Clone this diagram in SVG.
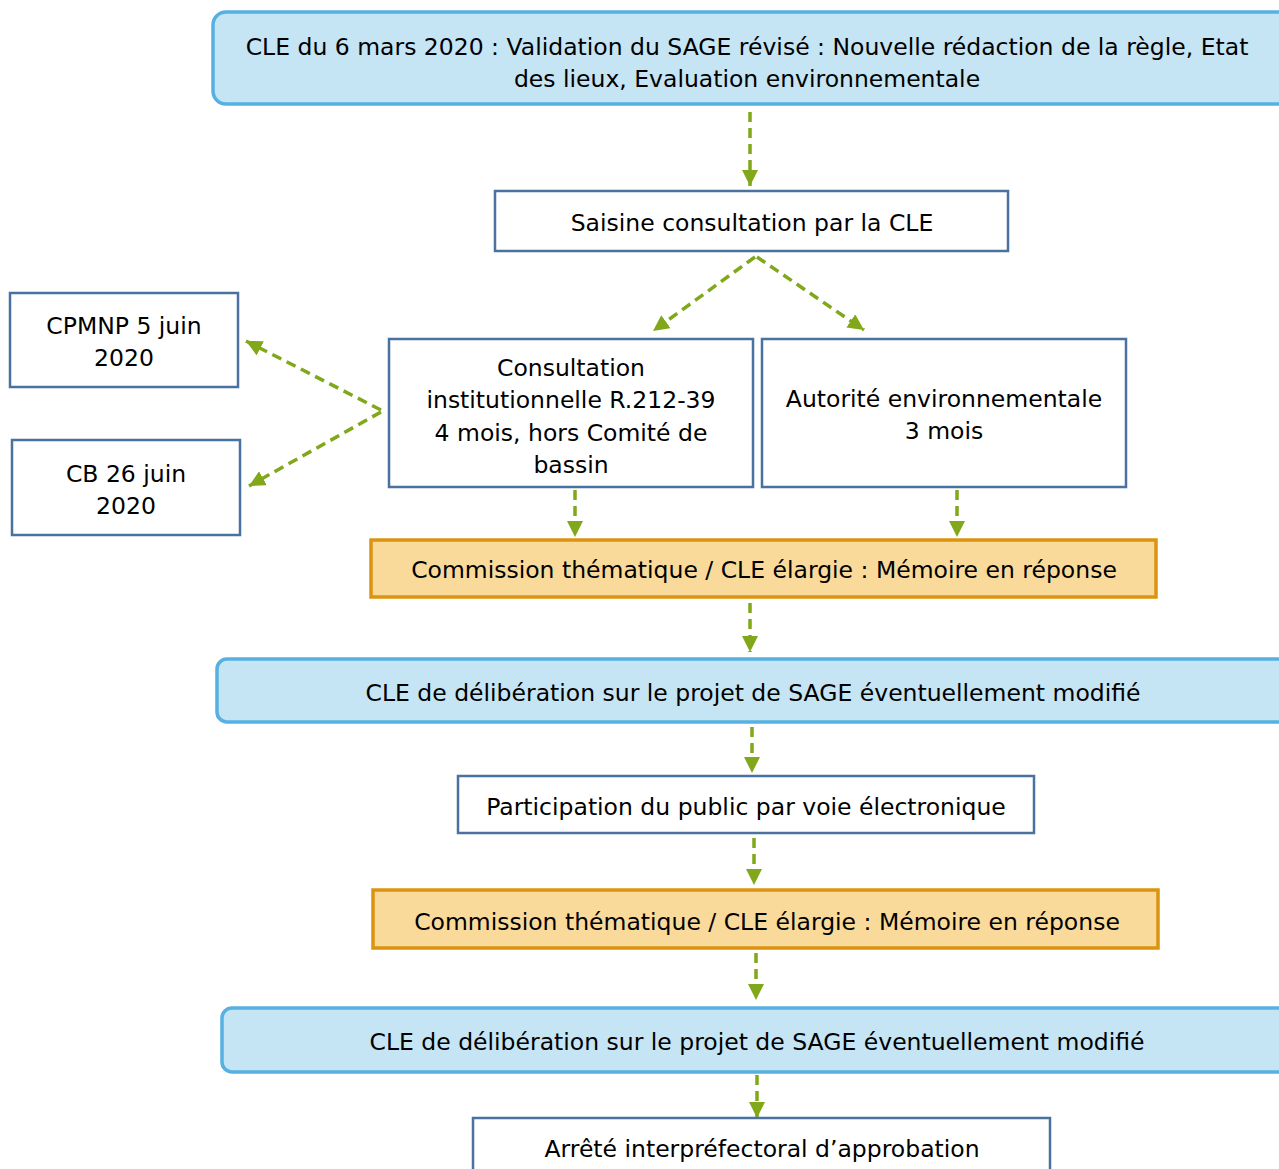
<svg xmlns="http://www.w3.org/2000/svg" width="1279" height="1169" viewBox="0 0 1279 1169">
<style>
text{font-family:"DejaVu Sans",sans-serif;font-size:23.5px;fill:#000;text-anchor:middle}
.blue{fill:#c5e4f4;stroke:#56b1e2;stroke-width:3.5}
.plain{fill:#fff;stroke:#4a72a0;stroke-width:2.5}
.orange{fill:#f9da9a;stroke:#dc9410;stroke-width:3.5}
.conn{fill:none;stroke:#80a81a;stroke-width:3.5;stroke-dasharray:10 6;marker-end:url(#ah)}
</style>
<defs>
<marker id="ah" markerUnits="userSpaceOnUse" markerWidth="18" markerHeight="18" refX="16" refY="8" orient="auto">
<path d="M0,0 L16,8 L0,16 Z" fill="#80a81a"/>
</marker>
</defs>
<rect width="1279" height="1169" fill="#fff"/>
<g id="connectors">
<line class="conn" x1="750" y1="112" x2="750" y2="186"/>
<line class="conn" x1="755" y1="257" x2="653" y2="331"/>
<line class="conn" x1="757" y1="257" x2="864" y2="330"/>
<line class="conn" x1="381" y1="410" x2="246" y2="341"/>
<line class="conn" x1="381" y1="412" x2="249" y2="486"/>
<line class="conn" x1="575" y1="490" x2="575" y2="537"/>
<line class="conn" x1="957" y1="490" x2="957" y2="537"/>
<line class="conn" x1="750" y1="603" x2="750" y2="652"/>
<line class="conn" x1="752" y1="727" x2="752" y2="773"/>
<line class="conn" x1="754" y1="838" x2="754" y2="885"/>
<line class="conn" x1="756" y1="953" x2="756" y2="1000"/>
<line class="conn" x1="757" y1="1075" x2="757" y2="1118"/>
</g>
<g id="n1">
<rect class="blue" x="213" y="12" width="1080" height="92" rx="13"/>
<text x="747" y="55">CLE du 6 mars 2020 : Validation du SAGE révisé : Nouvelle rédaction de la règle, Etat</text>
<text x="747" y="87">des lieux, Evaluation environnementale</text>
</g>
<g id="n2">
<rect class="plain" x="495" y="191" width="513" height="60"/>
<text x="752" y="231">Saisine consultation par la CLE</text>
</g>
<g id="n3">
<rect class="plain" x="10" y="293" width="228" height="94"/>
<text x="124" y="334">CPMNP 5 juin</text>
<text x="124" y="366">2020</text>
</g>
<g id="n4">
<rect class="plain" x="12" y="440" width="228" height="95"/>
<text x="126" y="482">CB 26 juin</text>
<text x="126" y="514">2020</text>
</g>
<g id="n5">
<rect class="plain" x="389" y="339" width="364" height="148"/>
<text x="571" y="376">Consultation</text>
<text x="571" y="408">institutionnelle R.212-39</text>
<text x="571" y="441">4 mois, hors Comité de</text>
<text x="571" y="473">bassin</text>
</g>
<g id="n6">
<rect class="plain" x="762" y="339" width="364" height="148"/>
<text x="944" y="407">Autorité environnementale</text>
<text x="944" y="439">3 mois</text>
</g>
<g id="n7">
<rect class="orange" x="371" y="540" width="785" height="57"/>
<text x="764" y="578">Commission thématique / CLE élargie : Mémoire en réponse</text>
</g>
<g id="n8">
<rect class="blue" x="217" y="659" width="1080" height="63" rx="10"/>
<text x="753" y="701">CLE de délibération sur le projet de SAGE éventuellement modifié</text>
</g>
<g id="n9">
<rect class="plain" x="458" y="776" width="576" height="57"/>
<text x="746" y="815">Participation du public par voie électronique</text>
</g>
<g id="n10">
<rect class="orange" x="373" y="890" width="785" height="58"/>
<text x="767" y="930">Commission thématique / CLE élargie : Mémoire en réponse</text>
</g>
<g id="n11">
<rect class="blue" x="222" y="1008" width="1080" height="64" rx="10"/>
<text x="757" y="1050">CLE de délibération sur le projet de SAGE éventuellement modifié</text>
</g>
<g id="n12">
<rect class="plain" x="473" y="1118" width="577" height="80"/>
<text x="762" y="1157">Arrêté interpréfectoral d’approbation</text>
</g>
</svg>
